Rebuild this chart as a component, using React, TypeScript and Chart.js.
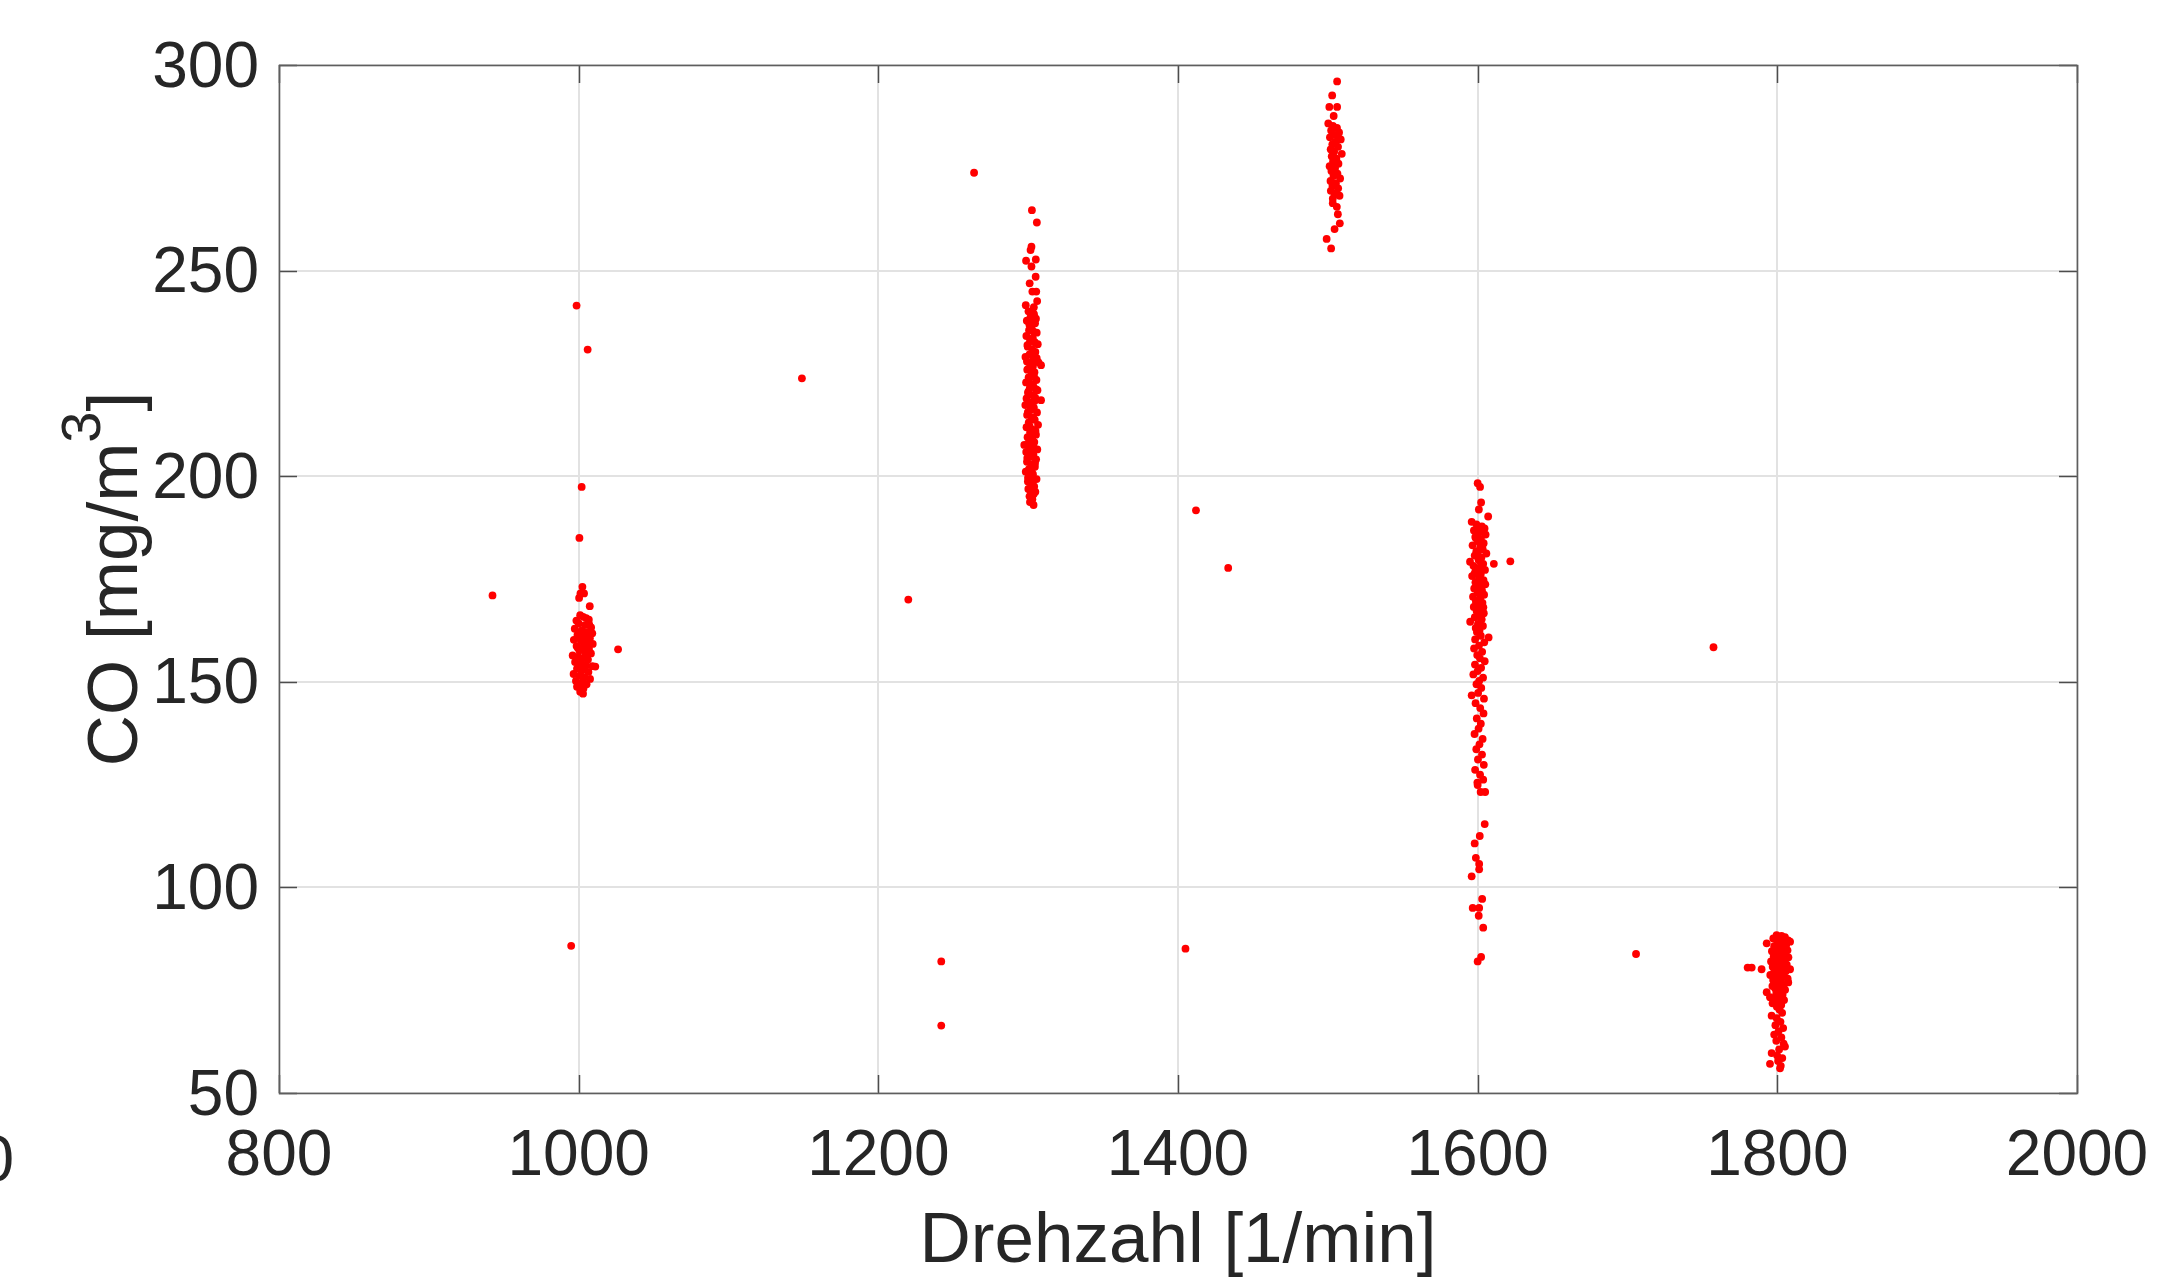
import React, { useEffect, useRef } from "react";
import { Chart, registerables } from "chart.js";

Chart.register(...registerables);

// Axis ranges and tick labels
const xTicks = [800, 1000, 1200, 1400, 1600, 1800, 2000];
const yTicks = [50, 100, 150, 200, 250, 300];
const xTitle = "Drehzahl [1/min]";
const yTitleMain = "CO [mg/m";
const yTitleSup = "3";
const yTitleEnd = "]";

// Measured points [Drehzahl, CO]
const cluster1000: number[][] = [
  [1002.5, 173.1], [1001.2, 171.5], [1003.6, 171.5], [1000.3, 170.4], [1007.4, 168.4],
  [1001, 166.2], [1003, 165.8], [1005, 165.5], [998.5, 164.9], [1006.8, 165.1],
  [1000, 164.2], [1004.2, 163.8], [1008.3, 163.2], [997.4, 162.9], [1002, 162.5],
  [1006, 162.1], [1009.1, 161.8], [999.2, 161.4], [1003.5, 161], [1007.5, 160.6],
  [996.8, 160.2], [1001.5, 159.9], [1005.4, 159.5], [1009.4, 159.2], [998.6, 158.7],
  [1003, 158.4], [1006.9, 158], [1000.5, 157.6], [1004.5, 157.2], [1008.2, 156.9],
  [996, 156.4], [999.8, 156.1], [1002.8, 155.7], [1006.2, 155.4], [997.6, 154.8],
  [1001.3, 154.5], [1004.9, 154.1], [1009.2, 153.8], [1011.1, 153.7], [998.9, 153.2],
  [1002.4, 152.8], [1006.5, 152.4], [996.6, 151.9], [1000.7, 151.5], [1004, 151.1],
  [1007.6, 150.7], [998.2, 150.2], [1002.1, 149.8], [1005.3, 149.4], [999.6, 148.9],
  [1003.2, 148.4], [1001, 147.6], [1002.9, 147.1], [998.9, 148.8], [1004.8, 156.6],
  [1000.9, 160.8], [1007.1, 163.9], [1003.7, 153.5], [999.4, 158.3], [1005.8, 161.6],
];

const cluster1300: number[][] = [
  [1302.5, 264.7], [1305.8, 261.7], [1302.2, 255.8], [1301.6, 255], [1298.6, 252.4],
  [1305.1, 252.7], [1302.2, 251], [1305, 248.5], [1301, 246.9], [1302.8, 244.9],
  [1305.4, 244.9], [1298.4, 241.6], [1306, 242.6],
  [1300.2, 240.1], [1303.9, 239.4], [1301.5, 238.6], [1299.1, 237.8], [1304.6, 237.2],
  [1302.3, 236.4], [1300.6, 235.5], [1305.7, 234.9], [1298.8, 234.1], [1303.1, 233.6],
  [1301.2, 232.8], [1306.4, 232.1], [1299.7, 231.5], [1302.7, 230.9], [1304.8, 230.2],
  [1300.9, 229.6], [1298.2, 229], [1303.6, 228.3], [1306.9, 227.7], [1308.6, 227],
  [1301.8, 226.5], [1299.4, 225.9], [1304.2, 225.3], [1302.1, 224.6], [1300.3, 224],
  [1305.5, 223.4], [1298.6, 222.8], [1303.3, 222.1], [1301.1, 221.5], [1306.2, 220.9],
  [1299.9, 220.3], [1302.9, 219.7], [1304.7, 219.1], [1308.6, 218.5], [1300.7, 217.9],
  [1298.1, 217.3], [1303.8, 216.7], [1301.6, 216.1], [1305.9, 215.5], [1299.3, 214.9],
  [1302.4, 214.3], [1304.4, 213.7], [1300.4, 213.1], [1306.6, 212.5], [1298.9, 211.9],
  [1303, 211.3], [1301.3, 210.7], [1305.2, 210.1], [1299.6, 209.5], [1302.6, 208.9],
  [1304.1, 208.3], [1297.4, 207.6], [1300.8, 207.1], [1306.1, 206.5], [1298.7, 205.9],
  [1303.5, 205.3], [1301.9, 204.7], [1305.3, 204.1], [1299.2, 203.5], [1302, 202.9],
  [1304.5, 202.3], [1300.5, 201.7], [1298.4, 201.1], [1303.2, 200.5], [1301.4, 199.9],
  [1305.6, 199.3], [1299.8, 198.7], [1302.5, 198.1], [1304, 197.5], [1300.1, 196.9],
  [1301.7, 196.3], [1303.7, 195.7], [1300.9, 195.1], [1302.8, 194.4], [1301.2, 193.7],
  [1303.6, 193],
  [1302.9, 239.9], [1300.8, 236.9], [1303.4, 235.2], [1301.9, 233.1], [1299.5, 231.9],
  [1303.7, 229.1], [1301.4, 227.3], [1300.1, 226.1], [1303.9, 224.2], [1302.6, 222.4],
  [1300.2, 220.6], [1304.3, 218.3], [1302.2, 217.1], [1299.8, 215.6], [1303.6, 214],
  [1301, 212.2], [1304.9, 211], [1302.7, 209.3], [1300.4, 208.1], [1303.9, 206.9],
  [1301.5, 205.6], [1299.4, 204.4], [1304.6, 203.2], [1302.3, 201.4], [1300.6, 200.2],
  [1303.1, 198.9], [1301.8, 197.2], [1299.9, 199.6], [1304.8, 196.2], [1302.4, 194.9],
  [1298.9, 218.9], [1305.1, 221.2], [1300.3, 223.1], [1303.2, 226.8], [1305.7, 228.7],
  [1299.2, 227.9], [1304.4, 232.6], [1301.1, 237.4], [1305.2, 238.3], [1303.8, 241.1],
];

const cluster1500: number[][] = [
  [1506.2, 296], [1502.9, 292.6], [1501, 289.8], [1506.2, 289.8], [1503.9, 287.6],
  [1500.3, 285.8], [1503.4, 285.2], [1506.1, 284.7], [1502.2, 284.1], [1507.5, 283.6],
  [1504.6, 283], [1501.4, 282.4], [1508.6, 281.9], [1505.2, 281.3], [1503, 280.7],
  [1506.8, 280.1], [1501.9, 279.5], [1504.2, 278.9], [1509.3, 278.4], [1502.6, 277.8],
  [1505.7, 277.2], [1503.5, 276.6], [1507.1, 276], [1501.2, 275.4], [1504.8, 274.8],
  [1502.4, 274.2], [1506.4, 273.6], [1503.8, 273], [1508.2, 272.4], [1501.8, 271.8],
  [1505.4, 271.2], [1503.1, 270.6], [1506.9, 270], [1502, 269.4], [1504.5, 268.8],
  [1507.8, 268.2], [1503.3, 267.5], [1505.9, 275.9], [1502.8, 279.2], [1506.5, 282.8],
  [1503.3, 266.4], [1506, 265.5], [1506.7, 263.7], [1508, 261.5], [1504.5, 260.1],
  [1499.2, 257.7], [1502.2, 255.4],
];

const cluster1600: number[][] = [
  [1600, 198.3], [1601.6, 197.4], [1602.3, 193.6], [1600.8, 191.9], [1607, 190.2],
  [1596, 188.9], [1599.2, 188.3], [1602.8, 187.8], [1604.6, 187.3], [1597.5, 186.8],
  [1601.1, 186.3], [1605.3, 185.8], [1598.4, 185.2], [1602.2, 184.7], [1600.3, 184.2],
  [1604, 183.7], [1596.6, 183.2], [1601.7, 182.7], [1603.4, 182.2], [1599.1, 181.7],
  [1605.8, 181.2], [1598, 180.7], [1602.5, 180.2], [1600.6, 179.7], [1594.9, 179.2],
  [1603.7, 178.7], [1597.2, 178.2], [1601.4, 177.7], [1604.9, 177.2], [1599.6, 176.7],
  [1602.1, 176.2], [1596.3, 175.7], [1600.9, 175.2], [1603.9, 174.7], [1598.5, 174.2],
  [1605.1, 173.7], [1601.2, 173.2], [1597.7, 172.7], [1602.9, 172.2], [1599.9, 171.7],
  [1604.3, 171.2], [1596.9, 170.7], [1601.6, 170.2], [1598.8, 169.7], [1603.2, 169.2],
  [1600.4, 168.7], [1597.4, 168.2], [1602.4, 167.7], [1599.3, 167.2], [1604.1, 166.7],
  [1600.7, 166.2], [1598.1, 165.7], [1602.7, 165.2], [1595, 164.6], [1600.2, 164.1],
  [1603.5, 163.6], [1598.7, 163.1], [1601.3, 162.6], [1607.3, 160.8], [1599.5, 162.1],
  [1601.9, 187], [1598.9, 184.9], [1603.1, 183], [1600.1, 181], [1602, 179],
  [1598.6, 177], [1600.5, 173.9], [1602.6, 171], [1599, 169], [1601.8, 167],
  [1603.8, 168.1], [1597.9, 176.3], [1610.8, 178.7], [1621.8, 179.3],
  [1602.1, 161.2], [1598.3, 160.3], [1604.4, 159.6], [1600.9, 158.8], [1597.6, 158.1],
  [1603, 157.3], [1599.7, 156.5], [1601.5, 155.7], [1604.7, 155], [1598.2, 154.2],
  [1602.3, 153.4], [1600, 152.6], [1597.1, 151.8], [1603.6, 151], [1601, 150.2],
  [1599.2, 149.4], [1596, 146.7],
  [1602.4, 148.5], [1600.3, 147.3], [1604.2, 145.9], [1598.6, 144.8], [1601.7, 143.6],
  [1603.9, 142.3], [1599.4, 141.1], [1602.1, 139.8], [1600.6, 138.6], [1597.9, 137.3],
  [1603.3, 136.1], [1601.2, 134.8], [1599.1, 133.6], [1602.9, 132.3], [1600.2, 131.1],
  [1604.1, 129.8], [1598.3, 128.6], [1601.6, 127.4], [1603.7, 126.2], [1599.8, 125.5],
  [1602, 123.2], [1605, 123.2], [1600, 124.9],
  [1604.7, 115.4], [1601.4, 112.5], [1598, 110.7], [1598.8, 107.2], [1601, 105.7],
  [1601, 104.4], [1596, 102.7], [1603, 97.2], [1596.7, 95], [1601, 95],
  [1600.7, 93.1], [1603.7, 90.2], [1602.3, 83.1], [1600, 82],
];

const cluster1800: number[][] = [
  [1799.5, 88.4], [1802.8, 88.2], [1805.1, 87.9], [1797.3, 87.6], [1801, 87.4],
  [1807.2, 87.1], [1803.6, 86.9], [1808.5, 86.8], [1792.9, 86.4], [1799.8, 86.2],
  [1805.9, 86], [1797.9, 85.7], [1802.1, 85.5], [1804.4, 85.2], [1800.6, 85],
  [1806.8, 84.7], [1796.4, 84.5], [1803.2, 84.2], [1799.2, 84], [1805.3, 83.7],
  [1801.5, 83.5], [1797.6, 83.2], [1807.4, 83], [1802.7, 82.7], [1800.1, 82.5],
  [1804.8, 82.2], [1795.8, 82], [1803.9, 81.7], [1798.8, 81.5], [1806.3, 81.2],
  [1801.9, 81], [1796.9, 80.7], [1789.5, 80.1], [1780.2, 80.5], [1782.9, 80.5],
  [1808.5, 80.1], [1803.4, 80.3], [1799.4, 79.9], [1805.6, 79.6], [1797.8, 79.3],
  [1801.3, 79], [1795.3, 78.7], [1803.8, 78.4], [1799.9, 78.1], [1806.9, 77.8],
  [1797.2, 77.5], [1802.4, 77.2], [1807.3, 76.9], [1800.7, 76.6], [1804.3, 76.3],
  [1796.7, 76], [1802.9, 75.7], [1798.6, 75.4], [1805.2, 75.1], [1792.9, 74.5],
  [1801.8, 74.8], [1799.3, 74.2], [1795.1, 73.3], [1803.5, 73.9], [1800.2, 73.5],
  [1798.3, 72.9], [1804.5, 72.6], [1801.1, 72.2], [1796.8, 71.8], [1802.6, 71.4],
  [1799.7, 71],
  [1796.2, 68.8], [1801.4, 70.3], [1803.2, 69.5], [1799.6, 68.2], [1802.1, 67.3],
  [1798.7, 66.5], [1803.9, 65.8], [1800.8, 65], [1797.9, 64.2], [1802.7, 63.5],
  [1799.3, 62.7], [1804.2, 62], [1805.1, 61.3], [1801.2, 60.6], [1796.2, 59.7],
  [1799.9, 59.1], [1803.3, 58.5], [1800.5, 57.8], [1795.1, 57.1], [1802.3, 56.6],
  [1801.8, 56],
];

const outliers: number[][] = [
  [942.5, 171], [998.6, 241.5], [1006, 230.8], [1002, 197.4], [1000.5, 185],
  [1026.3, 157.9], [995, 85.8], [1149, 223.8], [1263.9, 273.8], [1220, 170],
  [1242, 82], [1242, 66.4], [1412, 191.7], [1433.5, 177.7], [1405, 85.1],
  [1705.7, 83.8], [1757.4, 158.4],
];

const FONT = "'Liberation Sans', Arial, Helvetica, sans-serif";
const TEXT = "#262626";

const overlay = {
  id: "matlabOverlay",
  afterDraw(chart: any) {
    const { ctx, chartArea } = chart;
    const { left, right, top, bottom } = chartArea;
    const xs = chart.scales.x;
    const ys = chart.scales.y;
    ctx.save();
    // ticks (inward, all four sides)
    ctx.strokeStyle = "#4d4d4d";
    ctx.lineWidth = 1.5;
    const tl = 18;
    ctx.beginPath();
    xTicks.forEach((v) => {
      const px = Math.round(xs.getPixelForValue(v)) + 0.5;
      ctx.moveTo(px, bottom);
      ctx.lineTo(px, bottom - tl);
      ctx.moveTo(px, top);
      ctx.lineTo(px, top + tl);
    });
    yTicks.forEach((v) => {
      const py = Math.round(ys.getPixelForValue(v)) + 0.5;
      ctx.moveTo(left, py);
      ctx.lineTo(left + tl, py);
      ctx.moveTo(right, py);
      ctx.lineTo(right - tl, py);
    });
    ctx.stroke();
    // box
    ctx.strokeStyle = "#5e5e5e";
    ctx.lineWidth = 1.6;
    ctx.strokeRect(left + 0.5, top + 0.5, right - left, bottom - top);

    // x title
    ctx.fillStyle = TEXT;
    ctx.font = `71px ${FONT}`;
    ctx.textAlign = "center";
    ctx.textBaseline = "alphabetic";
    ctx.fillText(xTitle, (left + right) / 2, 1262);

    // y title with superscript
    ctx.save();
    ctx.translate(137, (top + bottom) / 2);
    ctx.rotate(-Math.PI / 2);
    ctx.textAlign = "left";
    ctx.font = `71px ${FONT}`;
    const w1 = ctx.measureText(yTitleMain).width;
    const w3 = ctx.measureText(yTitleEnd).width;
    ctx.font = `56px ${FONT}`;
    const w2 = ctx.measureText(yTitleSup).width;
    const total = w1 + w2 + w3;
    let cx = -total / 2;
    ctx.font = `71px ${FONT}`;
    ctx.fillText(yTitleMain, cx, 0);
    cx += w1;
    ctx.font = `56px ${FONT}`;
    ctx.fillText(yTitleSup, cx, -37);
    cx += w2;
    ctx.font = `71px ${FONT}`;
    ctx.fillText(yTitleEnd, cx, 0);
    ctx.restore();

    // clipped leftover label at the far left edge
    ctx.font = `64px ${FONT}`;
    ctx.textAlign = "right";
    ctx.fillText("0", 14, 1181);
    ctx.restore();
  },
};

export default function App() {
  const ref = useRef<HTMLCanvasElement | null>(null);
  useEffect(() => {
    if (!ref.current) return;
    const toPts = (arr: number[][]) => arr.map((p) => ({ x: p[0], y: p[1] }));
    const ds = (arr: number[][]) => ({
      data: toPts(arr),
      pointRadius: 3.9,
      pointBackgroundColor: "#ff0000",
      pointBorderWidth: 0,
      showLine: false,
    });
    const chart = new Chart(ref.current, {
      type: "scatter",
      data: {
        datasets: [
          ds(cluster1000),
          ds(cluster1300),
          ds(cluster1500),
          ds(cluster1600),
          ds(cluster1800),
          ds(outliers),
        ],
      },
      options: {
        animation: false,
        responsive: false,
        devicePixelRatio: 1,
        layout: { padding: { left: 0, top: 65, right: 81, bottom: 0 } },
        plugins: { legend: { display: false }, tooltip: { enabled: false } },
        scales: {
          x: {
            type: "linear",
            min: xTicks[0],
            max: xTicks[xTicks.length - 1],
            afterBuildTicks: (s: any) => {
              s.ticks = xTicks.map((v) => ({ value: v }));
            },
            afterFit: (s: any) => {
              s.height = 192;
              s.paddingLeft = 0;
              s.paddingRight = 0;
            },
            ticks: {
              color: TEXT,
              font: { family: FONT, size: 64 },
              padding: 26,
              maxRotation: 0,
              autoSkip: false,
              callback: (v: any) => String(v),
            },
            grid: { color: "#e2e2e2", lineWidth: 2, drawTicks: false },
            border: { display: false },
            title: { display: false },
          },
          y: {
            type: "linear",
            min: yTicks[0],
            max: yTicks[yTicks.length - 1],
            afterBuildTicks: (s: any) => {
              s.ticks = yTicks.map((v) => ({ value: v }));
            },
            afterFit: (s: any) => {
              s.width = 279;
              s.paddingTop = 0;
              s.paddingBottom = 0;
            },
            ticks: {
              color: TEXT,
              font: { family: FONT, size: 64 },
              padding: 20,
              labelOffset: 4,
              autoSkip: false,
              callback: (v: any) => String(v),
            },
            grid: { color: "#e2e2e2", lineWidth: 2, drawTicks: false },
            border: { display: false },
            title: { display: false },
          },
        },
      },
      plugins: [overlay],
    } as any);
    return () => chart.destroy();
  }, []);
  return (
    <div style={{ position: "fixed", left: 0, top: 0, width: 2158, height: 1285, background: "#fff" }}>
      <canvas ref={ref} width={2158} height={1285} style={{ display: "block" }} />
    </div>
  );
}
